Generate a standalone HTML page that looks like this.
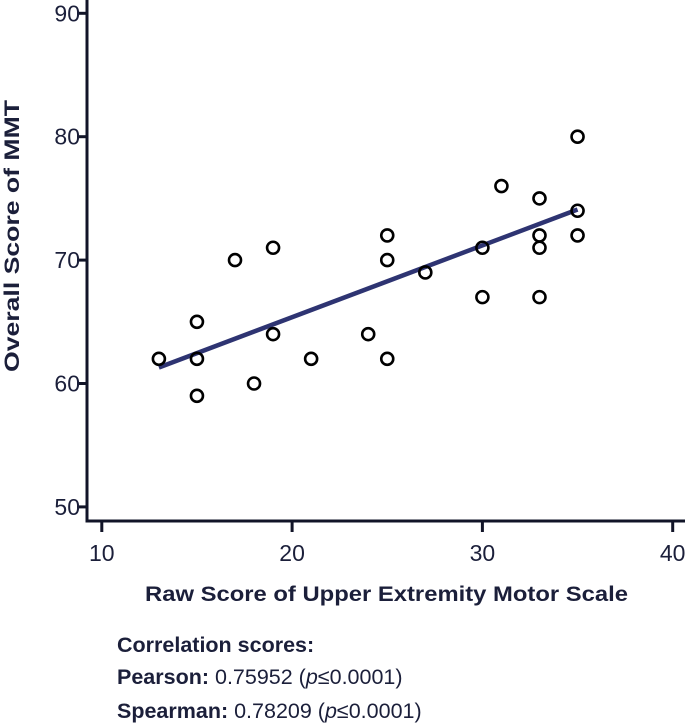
<!DOCTYPE html>
<html><head><meta charset="utf-8"><style>
body{margin:0;background:#fff;width:685px;height:724px;overflow:hidden;font-family:"Liberation Sans",Arial,sans-serif;color:#1b1f3a}
svg{position:absolute;left:0;top:0}
.note{position:absolute;left:117px;font-size:21.5px;line-height:25px;white-space:nowrap}
</style></head><body>
<svg id="chart" width="685" height="724"></svg>
<div class="note" style="top:633px;font-weight:bold">Correlation scores:</div>
<div class="note" style="top:665px"><b>Pearson:</b> 0.75952 (<i>p</i>≤0.0001)</div>
<div class="note" style="top:699px"><b>Spearman:</b> 0.78209 (<i>p</i>≤0.0001)</div>
<script>
const xVals=[13,15,15,15,17,18,19,19,21,24,25,25,25,27,30,30,31,33,33,33,33,35,35,35];
const yVals=[62,65,62,59,70,60,71,64,62,64,72,70,62,69,71,67,76,75,72,71,67,80,74,72];
const xTicks=[10,20,30,40];
const yTicks=[50,60,70,80,90];
const fitX=[13,35];
const fitY=[61.3,74.1];
const NS="http://www.w3.org/2000/svg";
const svg=document.getElementById('chart');
const sx=v=>101.8+(v-10)*19.03;
const sy=v=>13.3+(90-v)*12.34;
function mk(t,a){const e=document.createElementNS(NS,t);for(const k in a)e.setAttribute(k,a[k]);svg.appendChild(e);return e;}
let e;
e=mk('line',{x1:87,y1:0,x2:87,y2:522,stroke:'#111428','stroke-width':3});


e=mk('line',{x1:85.5,y1:521,x2:685,y2:521,stroke:'#111428','stroke-width':3});


xTicks.forEach(t=>{
 e=mk('line',{x1:sx(t),y1:521,x2:sx(t),y2:532,stroke:'#111428','stroke-width':3});
 
 
 e=mk('text',{x:sx(t),y:561,'text-anchor':'middle','font-size':23,fill:'#1b1f3a'});e.textContent=t;
 
 
});
yTicks.forEach(t=>{
 e=mk('line',{x1:77,y1:sy(t),x2:87,y2:sy(t),stroke:'#111428','stroke-width':3});
 
 
 e=mk('text',{x:80,y:sy(t)+8,'text-anchor':'end','font-size':23,fill:'#1b1f3a'});e.textContent=t;
 
 
});
e=mk('line',{x1:sx(fitX[0]),y1:sy(fitY[0]),x2:sx(fitX[1]),y2:sy(fitY[1]),stroke:'#2e3472','stroke-width':4.5});


xVals.forEach((x,i)=>{
 e=mk('circle',{cx:sx(x),cy:sy(yVals[i]),r:6,fill:'none',stroke:'#000','stroke-width':2.6});
 
 
});
e=mk('text',{x:145,y:601,'font-size':21,'font-weight':'bold',fill:'#1b1f3a',textLength:483,lengthAdjust:'spacingAndGlyphs'});
e.textContent='Raw Score of Upper Extremity Motor Scale';


e=mk('text',{x:0,y:0,'font-size':21,'font-weight':'bold',fill:'#1b1f3a',transform:'translate(19,372) rotate(-90)',textLength:272,lengthAdjust:'spacingAndGlyphs'});
e.textContent='Overall Score of MMT';


</script>
</body></html>
